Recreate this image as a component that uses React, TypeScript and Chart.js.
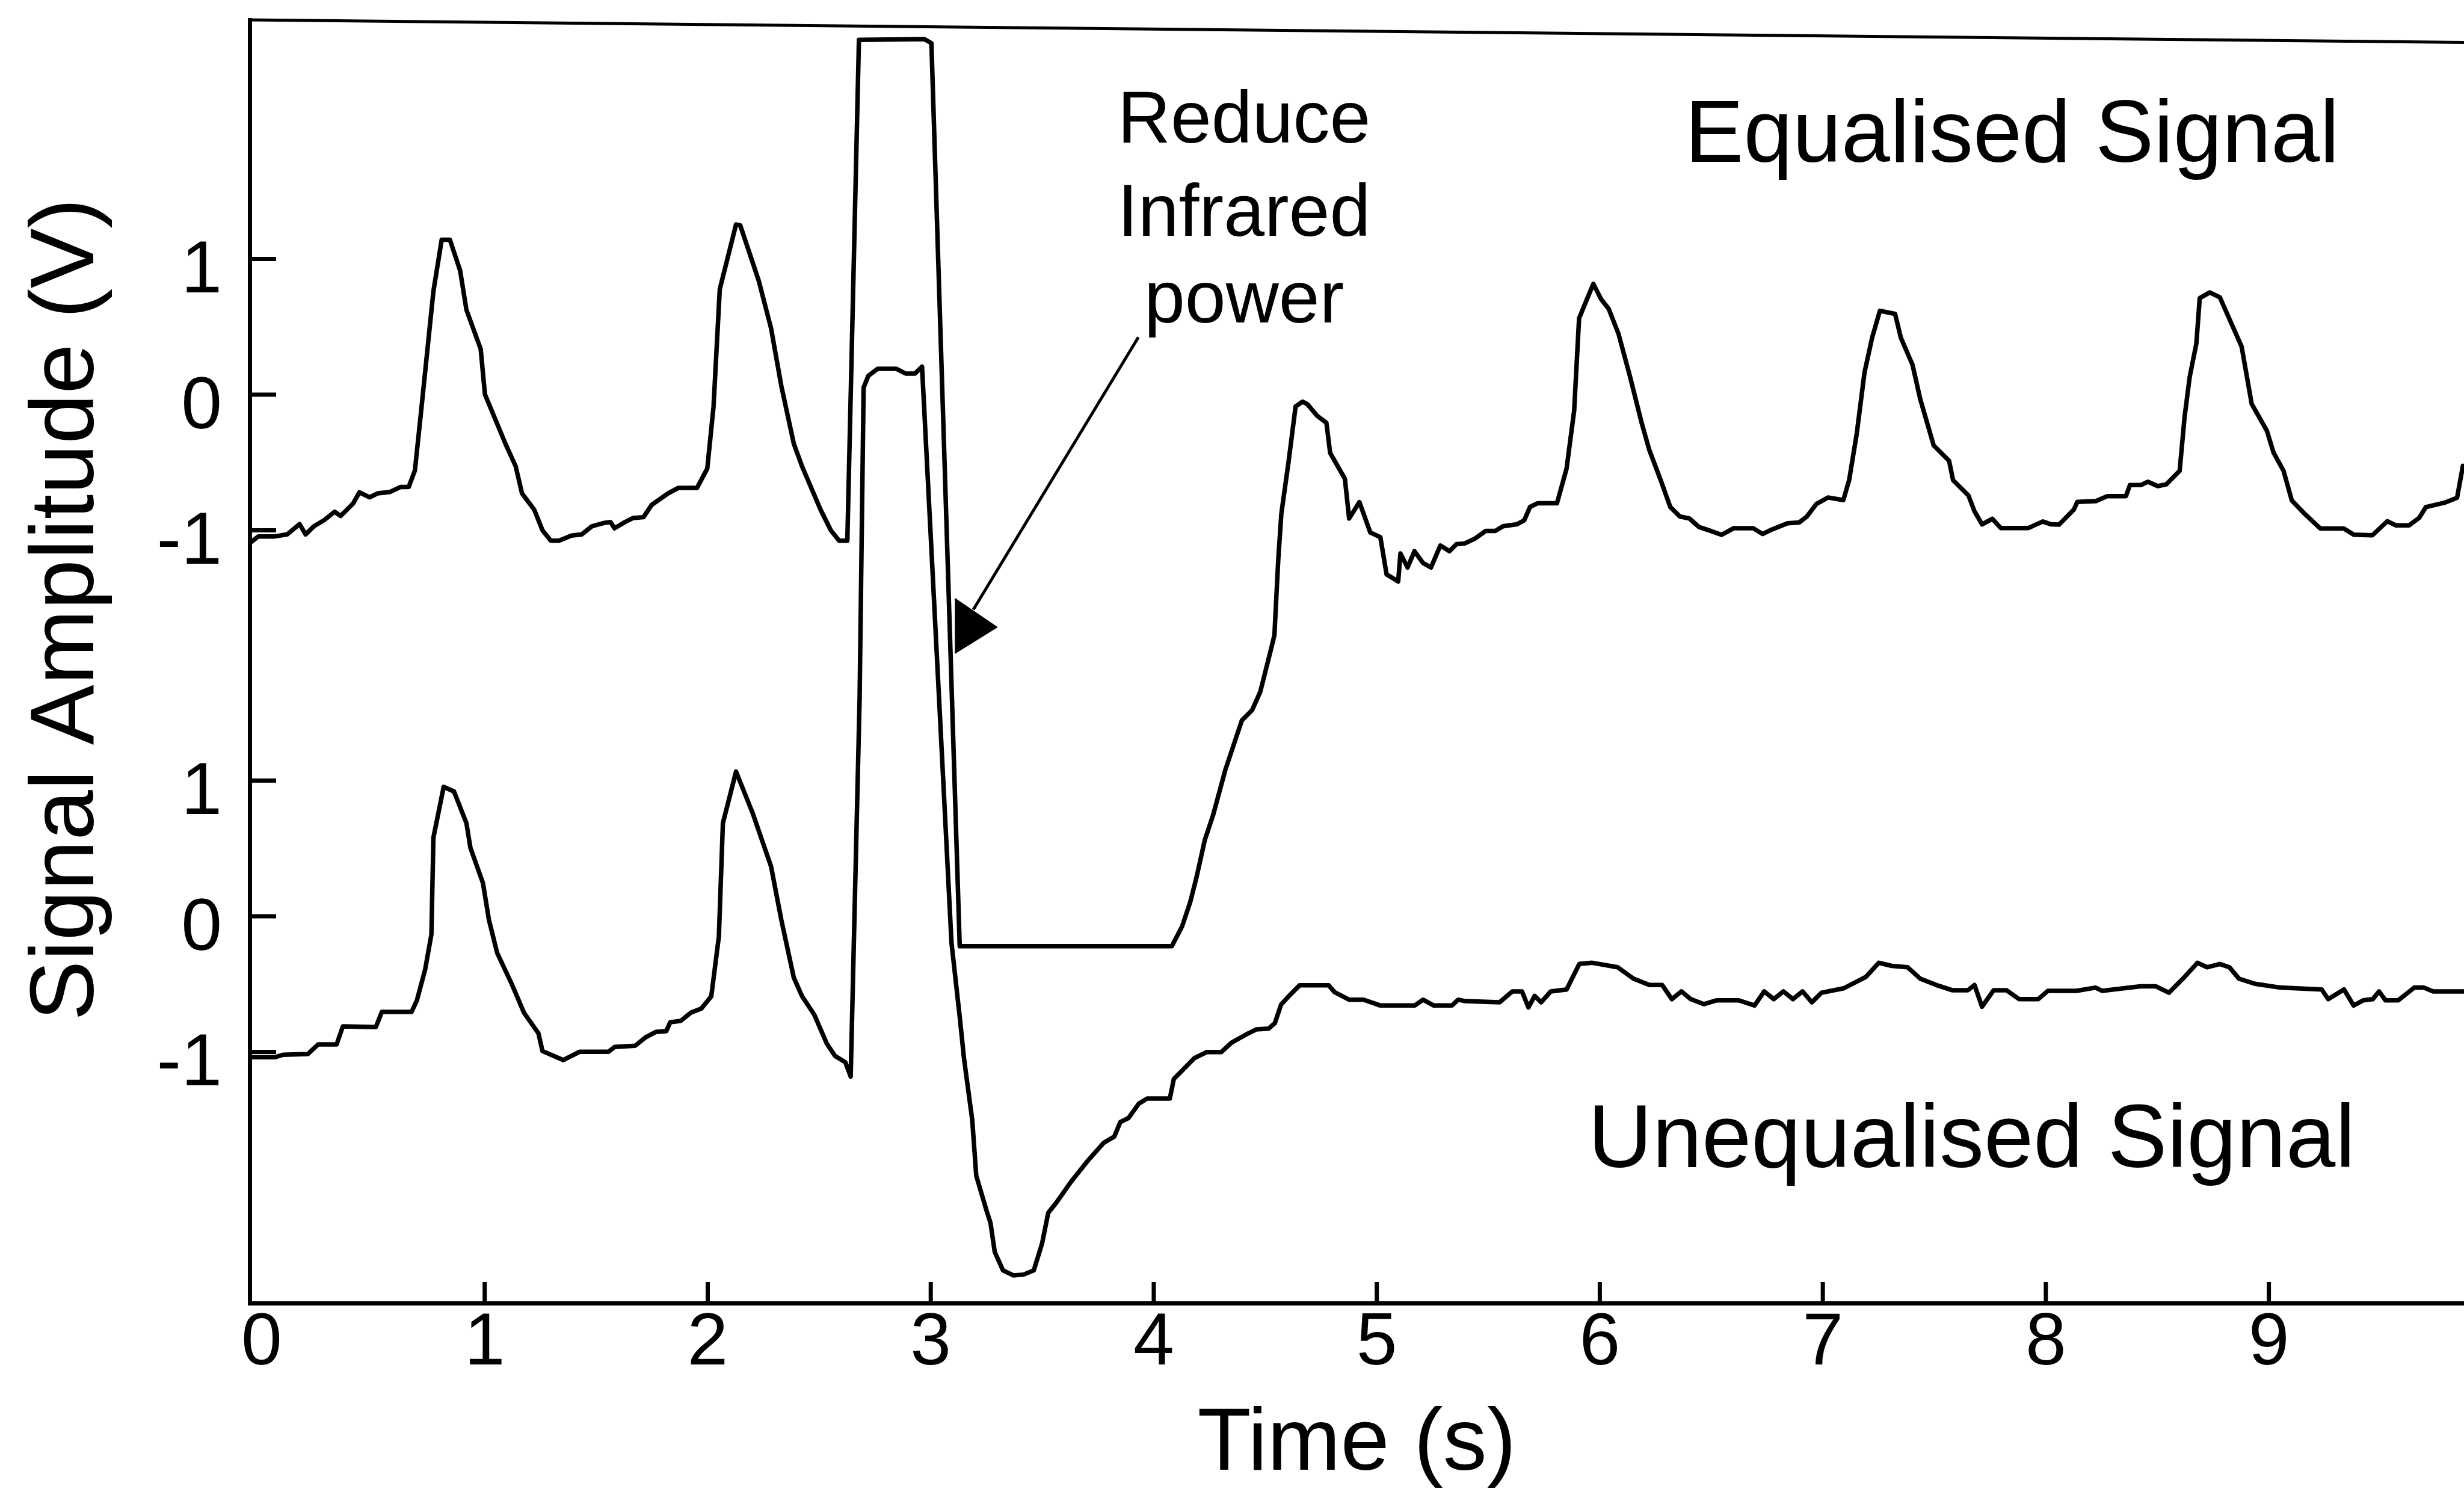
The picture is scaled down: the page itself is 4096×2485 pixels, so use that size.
import React, { useEffect, useRef } from 'react';
import { Chart, registerables } from 'chart.js';

Chart.register(...registerables);

// ---------- data (seconds, volts) ----------
const equalisedTime = [
  -0.05, -0.015, 0.059, 0.114, 0.17, 0.197, 0.234, 0.281, 0.327, 0.354, 0.41, 0.438, 0.484, 0.521, 0.576, 0.622, 0.659,
  0.687, 0.715, 0.751, 0.77, 0.807, 0.844, 0.89, 0.918, 0.982, 1.001, 1.093, 1.139, 1.167, 1.222, 1.259, 1.296, 1.333,
  1.389, 1.435, 1.481, 1.536, 1.564, 1.582, 1.629, 1.666, 1.712, 1.749, 1.823, 1.869, 1.952, 1.998, 2.026, 2.054, 2.127,
  2.146, 2.229, 2.284, 2.33, 2.386, 2.423, 2.506, 2.552, 2.589, 2.626, 2.678, 2.971, 3.003, 3.13, 4.081, 4.127, 4.164,
  4.192, 4.229, 4.266, 4.321, 4.395, 4.441, 4.478, 4.529, 4.541, 4.558, 4.572, 4.604, 4.636, 4.667, 4.688, 4.732, 4.774,
  4.791, 4.857, 4.876, 4.922, 4.971, 5.016, 5.044, 5.096, 5.106, 5.138, 5.169, 5.207, 5.243, 5.285, 5.326, 5.357, 5.394,
  5.441, 5.489, 5.532, 5.566, 5.627, 5.661, 5.687, 5.722, 5.808, 5.851, 5.885, 5.907, 5.928, 5.971, 6.006, 6.04, 6.084,
  6.135, 6.187, 6.221, 6.273, 6.316, 6.359, 6.402, 6.445, 6.497, 6.546, 6.601, 6.687, 6.73, 6.773, 6.842, 6.894, 6.928,
  6.971, 7.023, 7.092, 7.118, 7.152, 7.187, 7.221, 7.256, 7.324, 7.35, 7.402, 7.437, 7.497, 7.566, 7.584, 7.653, 7.679,
  7.714, 7.76, 7.798, 7.922, 7.986, 8.024, 8.059, 8.126, 8.141, 8.224, 8.276, 8.359, 8.377, 8.427, 8.457, 8.502, 8.54,
  8.6, 8.622, 8.645, 8.675, 8.69, 8.735, 8.78, 8.825, 8.878, 8.923, 8.991, 9.021, 9.066, 9.103, 9.156, 9.231, 9.336,
  9.381, 9.464, 9.531, 9.569, 9.629, 9.674, 9.704, 9.787, 9.844, 9.87,
];
const equalisedValue = [
  -1.09, -1.045, -1.045, -1.03, -0.954, -1.03, -0.97, -0.924, -0.863, -0.894, -0.802, -0.72, -0.757, -0.727, -0.717,
  -0.681, -0.681, -0.559, -0.119, 0.458, 0.762, 1.141, 1.141, 0.913, 0.625, 0.336, 0.002, -0.362, -0.529, -0.727, -0.848,
  -1.0, -1.076, -1.076, -1.039, -1.03, -0.97, -0.945, -0.939, -0.985, -0.939, -0.909, -0.903, -0.812, -0.727, -0.687,
  -0.687, -0.545, -0.089, 0.777, 1.254, 1.247, 0.838, 0.489, 0.064, -0.362, -0.529, -0.848, -1.0, -1.076, -1.076, 2.615,
  2.62, 2.59, -4.065, -4.065, -3.919, -3.737, -3.555, -3.281, -3.099, -2.765, -2.401, -2.325, -2.188, -1.854, -1.773,
  -1.222, -0.878, -0.5, -0.087, -0.052, -0.069, -0.155, -0.207, -0.43, -0.62, -0.913, -0.792, -1.016, -1.05, -1.325,
  -1.377, -1.171, -1.274, -1.154, -1.24, -1.274, -1.112, -1.154, -1.102, -1.097, -1.06, -1.004, -1.004, -0.97, -0.956,
  -0.927, -0.828, -0.8, -0.8, -0.545, -0.119, 0.561, 0.646, 0.816, 0.703, 0.632, 0.447, 0.136, -0.204, -0.403, -0.63,
  -0.828, -0.898, -0.913, -0.976, -1.004, -1.033, -0.984, -0.984, -1.027, -0.993, -0.948, -0.942, -0.899, -0.806, -0.758,
  -0.777, -0.63, -0.289, 0.164, 0.419, 0.618, 0.595, 0.419, 0.221, -0.034, -0.374, -0.487, -0.63, -0.743, -0.856, -0.956,
  -0.915, -0.983, -0.983, -0.935, -0.956, -0.958, -0.846, -0.79, -0.785, -0.748, -0.748, -0.666, -0.666, -0.642, -0.674,
  -0.661, -0.562, -0.166, 0.13, 0.378, 0.711, 0.753, 0.718, 0.551, 0.353, -0.068, -0.266, -0.427, -0.562, -0.78, -0.871,
  -0.987, -0.987, -1.032, -1.037, -0.933, -0.963, -0.963, -0.908, -0.829, -0.797, -0.76, -0.525,
];

const unequalisedTime = [
  -0.05, 0.059, 0.096, 0.207, 0.253, 0.336, 0.364, 0.512, 0.539, 0.672, 0.696, 0.733, 0.761, 0.77, 0.816, 0.862, 0.918,
  0.936, 0.992, 1.019, 1.056, 1.121, 1.176, 1.241, 1.259, 1.352, 1.425, 1.555, 1.583, 1.675, 1.721, 1.767, 1.814, 1.832,
  1.878, 1.924, 1.971, 2.016, 2.05, 2.068, 2.127, 2.201, 2.284, 2.33, 2.386, 2.423, 2.478, 2.534, 2.571, 2.617, 2.641,
  2.681, 2.699, 2.72, 2.762, 2.846, 2.888, 2.929, 2.961, 3.045, 3.093, 3.13, 3.149, 3.186, 3.204, 3.25, 3.268, 3.287,
  3.324, 3.37, 3.416, 3.462, 3.499, 3.527, 3.564, 3.629, 3.702, 3.776, 3.823, 3.85, 3.887, 3.933, 3.97, 4.072, 4.09,
  4.127, 4.182, 4.238, 4.303, 4.349, 4.423, 4.46, 4.515, 4.543, 4.571, 4.608, 4.654, 4.784, 4.811, 4.876, 4.941, 5.014,
  5.171, 5.208, 5.254, 5.337, 5.365, 5.394, 5.551, 5.608, 5.651, 5.68, 5.708, 5.737, 5.78, 5.851, 5.908, 5.966, 6.08,
  6.151, 6.223, 6.28, 6.323, 6.366, 6.408, 6.466, 6.523, 6.623, 6.694, 6.737, 6.78, 6.823, 6.866, 6.909, 6.951, 6.994,
  7.094, 7.194, 7.251, 7.309, 7.38, 7.437, 7.509, 7.58, 7.651, 7.68, 7.714, 7.766, 7.823, 7.88, 7.966, 8.009, 8.137,
  8.223, 8.252, 8.423, 8.494, 8.552, 8.623, 8.68, 8.723, 8.78, 8.823, 8.866, 8.937, 9.052, 9.237, 9.266, 9.337, 9.38,
  9.423, 9.466, 9.494, 9.523, 9.58, 9.652, 9.695, 9.737, 9.875,
];
const unequalisedValue = [
  -1.039, -1.039, -1.021, -1.015, -0.945, -0.945, -0.811, -0.817, -0.705, -0.705, -0.62, -0.392, -0.134, 0.58, 0.953,
  0.92, 0.686, 0.504, 0.245, -0.027, -0.271, -0.499, -0.711, -0.863, -0.994, -1.06, -0.999, -0.999, -0.963, -0.954,
  -0.893, -0.853, -0.847, -0.781, -0.772, -0.711, -0.681, -0.59, -0.149, 0.686, 1.066, 0.762, 0.367, -0.027, -0.453,
  -0.59, -0.726, -0.939, -1.03, -1.076, -1.182, 1.6, 3.896, 3.982, 4.034, 4.034, 3.999, 3.999, 4.05, 1.356, -0.196,
  -0.742, -1.046, -1.501, -1.912, -2.169, -2.261, -2.474, -2.61, -2.647, -2.641, -2.61, -2.413, -2.185, -2.109, -1.957,
  -1.806, -1.669, -1.624, -1.517, -1.487, -1.381, -1.344, -1.344, -1.199, -1.138, -1.046, -1.001, -1.001, -0.931, -0.864,
  -0.834, -0.828, -0.788, -0.651, -0.585, -0.509, -0.509, -0.56, -0.615, -0.615, -0.657, -0.657, -0.615, -0.657, -0.657,
  -0.615, -0.625, -0.634, -0.554, -0.554, -0.672, -0.587, -0.634, -0.554, -0.54, -0.352, -0.343, -0.376, -0.46, -0.507,
  -0.507, -0.611, -0.554, -0.611, -0.648, -0.62, -0.62, -0.658, -0.554, -0.611, -0.554, -0.611, -0.554, -0.634, -0.564,
  -0.531, -0.446, -0.343, -0.366, -0.376, -0.46, -0.507, -0.545, -0.545, -0.507, -0.667, -0.545, -0.545, -0.611, -0.611,
  -0.55, -0.55, -0.526, -0.55, -0.517, -0.517, -0.564, -0.446, -0.343, -0.376, -0.352, -0.376, -0.46, -0.498, -0.526,
  -0.54, -0.611, -0.54, -0.658, -0.62, -0.611, -0.554, -0.62, -0.62, -0.526, -0.526, -0.554, -0.554,
];

// vertical separation of the two stacked traces (volts on the shared axis)
const UPPER_OFFSET = 3.844;

const xTickValues = [0, 1, 2, 3, 4, 5, 6, 7, 8, 9];
const xTickLabels = ['0', '1', '2', '3', '4', '5', '6', '7', '8', '9'];
const yTickValues = [-1, 0, 1, UPPER_OFFSET - 1, UPPER_OFFSET, UPPER_OFFSET + 1];
const yTickLabels = ['-1', '0', '1', '-1', '0', '1'];

const X_MIN = -0.054;
const X_MAX = 9.875;
const Y_MIN = -2.851;
const Y_MAX = 6.606;
const TOP_BORDER_RIGHT = 6.44;

const FONT = '"Liberation Sans", Arial, Helvetica, sans-serif';

const extrasPlugin = {
  id: 'figureExtras',
  afterDraw(chart: any) {
    const { ctx, chartArea: ca, scales } = chart;
    const px = (v: number) => scales.x.getPixelForValue(v);
    const py = (v: number) => scales.y.getPixelForValue(v);
    ctx.save();
    ctx.strokeStyle = '#000';
    ctx.fillStyle = '#000';

    // top frame line (slightly skewed as in the scan)
    ctx.lineWidth = 5;
    ctx.beginPath();
    ctx.moveTo(ca.left - 3, py(Y_MAX));
    ctx.lineTo(ca.right, py(TOP_BORDER_RIGHT));
    ctx.stroke();

    // inward tick marks
    ctx.lineWidth = 7;
    xTickValues.forEach((v) => {
      if (v === 0) return;
      const x = px(v);
      ctx.beginPath();
      ctx.moveTo(x, ca.bottom);
      ctx.lineTo(x, ca.bottom - 35);
      ctx.stroke();
    });
    yTickValues.forEach((v) => {
      const y = py(v);
      ctx.beginPath();
      ctx.moveTo(ca.left, y);
      ctx.lineTo(ca.left + 44, y);
      ctx.stroke();
    });

    // arrow
    ctx.lineWidth = 5;
    ctx.beginPath();
    ctx.moveTo(px(3.931), py(4.267));
    ctx.lineTo(px(3.191), py(2.26));
    ctx.stroke();
    ctx.beginPath();
    ctx.moveTo(px(3.108), py(2.346));
    ctx.lineTo(px(3.301), py(2.13));
    ctx.lineTo(px(3.108), py(1.933));
    ctx.closePath();
    ctx.fill();

    // annotations
    ctx.textAlign = 'center';
    ctx.textBaseline = 'alphabetic';
    ctx.font = `122px ${FONT}`;
    ctx.fillText('Reduce', px(4.405), py(5.702));
    ctx.fillText('Infrared', px(4.405), py(5.016));
    ctx.fillText('power', px(4.405), py(4.378));
    ctx.font = `146px ${FONT}`;
    ctx.fillText('Equalised Signal', px(7.849), py(5.559));
    ctx.font = `148px ${FONT}`;
    ctx.fillText('Unequalised Signal', px(7.667), py(-1.85));

    // y-axis title
    ctx.translate(ca.left - 260, py(2.26));
    ctx.rotate(-Math.PI / 2);
    ctx.font = `150px ${FONT}`;
    ctx.fillText('Signal Amplitude (V)', 0, 0);
    ctx.restore();
  },
};

export default function App() {
  const canvasRef = useRef<HTMLCanvasElement | null>(null);

  useEffect(() => {
    if (!canvasRef.current) return;
    Chart.defaults.font.family = FONT;
    Chart.defaults.color = '#000';

    const upper = equalisedTime.map((t, i) => ({ x: t, y: equalisedValue[i] + UPPER_OFFSET }));
    const lower = unequalisedTime.map((t, i) => ({ x: t, y: unequalisedValue[i] }));

    const lineStyle = {
      borderColor: '#000',
      borderWidth: 7.5,
      pointRadius: 0,
      tension: 0,
      fill: false,
      borderJoinStyle: 'round' as const,
      borderCapStyle: 'round' as const,
    };

    const chart = new Chart(canvasRef.current, {
      type: 'line',
      data: {
        datasets: [
          { label: 'Equalised Signal', data: upper, ...lineStyle },
          { label: 'Unequalised Signal', data: lower, ...lineStyle },
        ],
      },
      options: {
        animation: false,
        responsive: false,
        devicePixelRatio: 1,
        layout: { padding: { top: 33, left: 0, right: 0, bottom: 0 } },
        plugins: { legend: { display: false }, tooltip: { enabled: false } },
        scales: {
          x: {
            type: 'linear',
            min: X_MIN,
            max: X_MAX,
            afterBuildTicks: (scale: any) => {
              scale.ticks = xTickValues.map((v) => ({ value: v }));
            },
            afterFit: (scale: any) => {
              scale.height = 319;
              scale.paddingLeft = 0;
              scale.paddingRight = 0;
            },
            ticks: {
              autoSkip: false,
              maxRotation: 0,
              minRotation: 0,
              padding: 7,
              color: '#000',
              font: { size: 122, family: FONT, lineHeight: 1 },
              callback: (_v: any, i: number) => xTickLabels[i],
            },
            grid: { drawOnChartArea: false, drawTicks: false },
            border: { display: true, color: '#000', width: 7 },
            title: {
              display: true,
              text: 'Time (s)',
              color: '#000',
              font: { size: 146, family: FONT, lineHeight: 1 },
              padding: { top: 0, bottom: 9 },
            },
          },
          y: {
            type: 'linear',
            min: Y_MIN,
            max: Y_MAX,
            afterBuildTicks: (scale: any) => {
              scale.ticks = yTickValues.map((v) => ({ value: v }));
            },
            afterFit: (scale: any) => {
              scale.width = 415;
              scale.paddingTop = 0;
              scale.paddingBottom = 0;
            },
            ticks: {
              autoSkip: false,
              padding: 46,
              labelOffset: 22,
              color: '#000',
              font: { size: 122, family: FONT, lineHeight: 1 },
              callback: (_v: any, i: number) => yTickLabels[i],
            },
            grid: { drawOnChartArea: false, drawTicks: false },
            border: { display: true, color: '#000', width: 7 },
          },
        },
      },
      plugins: [extrasPlugin],
    } as any);

    return () => chart.destroy();
  }, []);

  return (
    <div style={{ position: 'fixed', left: 0, top: 0, width: 4096, height: 2485, background: '#fff' }}>
      <canvas ref={canvasRef} width={4096} height={2485} style={{ display: 'block', width: 4096, height: 2485 }} />
    </div>
  );
}
